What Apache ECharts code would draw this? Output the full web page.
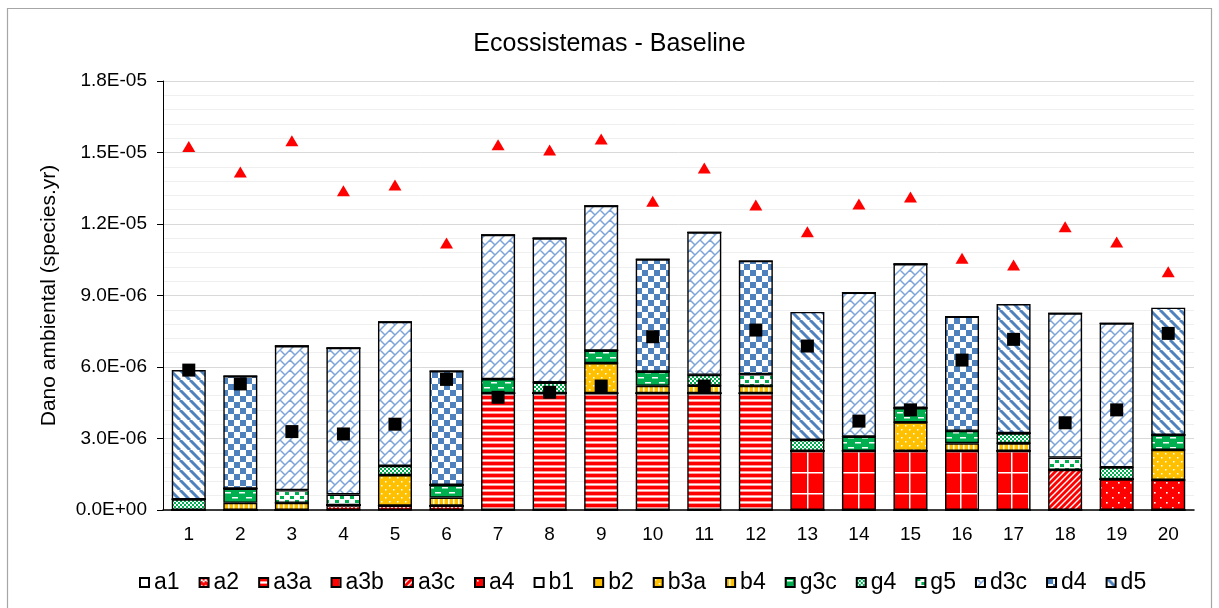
<!DOCTYPE html>
<html>
<head>
<meta charset="utf-8">
<script src="https://cdn.jsdelivr.net/npm/echarts@6/dist/echarts.min.js"></script>
<style>
html,body{margin:0;padding:0;background:#fff;}
#c{width:1219px;height:608px;}
</style>
</head>
<body>
<div id="c"></div>
<script>
// ---- data (values in units of 1E-06 species.yr) ----
const U = 1e-6;
const categories = ['1','2','3','4','5','6','7','8','9','10','11','12','13','14','15','16','17','18','19','20'];
const yTickLabels = ['0.0E+00','3.0E-06','6.0E-06','9.0E-06','1.2E-05','1.5E-05','1.8E-05'];
const seriesNames = ['a1','a2','a3a','a3b','a3c','a4','b1','b2','b3a','b4','g3c','g4','g5','d3c','d4','d5'];
const a1  = [0,0,0,0,0,0,0,0,0,0,0,0,0,0,0,0,0,0,0,0];
const a2  = [0,0,0,0.2,0.18,0.18,0,0,0,0,0,0,0,0,0,0,0,0,0,0];
const a3a = [0,0,0,0,0,0,4.9,4.9,4.9,4.9,4.9,4.9,0,0,0,0,0,0,0,0];
const a3b = [0,0,0,0,0,0,0,0,0,0,0,0,2.48,2.48,2.48,2.48,2.48,0,0,0];
const a3c = [0,0,0,0,0,0,0,0,0,0,0,0,0,0,0,0,0,1.68,0,0];
const a4  = [0,0,0,0,0,0,0,0,0,0,0,0,0,0,0,0,0,0,1.29,1.26];
const b1  = [0,0,0,0,0,0,0,0,0,0,0,0,0,0,0,0,0,0,0,0];
const b2  = [0,0,0,0,0,0,0,0,0,0,0,0,0,0,0,0,0,0,0,0];
const b3a = [0,0,0,0,1.28,0,0,0,1.26,0,0,0,0,0,1.2,0,0,0,0,1.26];
const b4  = [0,0.3,0.3,0,0,0.34,0,0,0,0.31,0.32,0.31,0,0,0,0.32,0.32,0,0,0];
const g3c = [0,0.6,0,0,0,0.53,0.59,0,0.53,0.6,0,0,0,0.6,0.6,0.52,0,0,0,0.63];
const g4  = [0.45,0,0,0,0.39,0,0,0.45,0,0,0.45,0,0.46,0,0,0,0.42,0,0.5,0];
const g5  = [0,0,0.53,0.45,0,0,0,0,0,0,0,0.49,0,0,0,0,0,0.52,0,0];
const d3c = [0,0,6.05,6.15,6.04,0,6.05,6.05,6.07,0,5.98,0,0,6.04,6.04,0,0,6.05,6.04,0];
const d4  = [0,4.72,0,0,0,4.78,0,0,0,4.71,0,4.75,0,0,0,4.79,0,0,0,0];
const d5  = [5.42,0,0,0,0,0,0,0,0,0,0,0,5.37,0,0,0,5.42,0,0,5.34];
const squares   = [5.87,5.29,3.29,3.19,3.6,5.48,4.73,4.94,5.2,7.27,5.2,7.55,6.88,3.73,4.2,6.29,7.16,3.66,4.2,7.41];
const triangles = [15.25,14.18,15.49,13.39,13.64,11.2,15.32,15.1,15.57,12.95,14.35,12.8,11.67,12.84,13.13,10.56,10.28,11.88,11.25,10.0];
const seriesValues = [a1,a2,a3a,a3b,a3c,a4,b1,b2,b3a,b4,g3c,g4,g5,d3c,d4,d5];

// ---- patterns ----
const RED='#FF0000', ORG='#FFC000', GRN='#00B050', BLU='#4F81BD';
function mk(w,h,draw){
  const c=document.createElement('canvas'); c.width=w; c.height=h;
  const g=c.getContext('2d'); draw(g,w,h);
  return {image:c, repeat:'repeat'};
}
function wrapSegs(g,segs,T){
  g.beginPath();
  segs.forEach(s=>{
    for(const dx of [-T,0,T]) for(const dy of [-T,0,T]){
      g.moveTo(s[0]+dx,s[1]+dy); g.lineTo(s[2]+dx,s[3]+dy);
    }
  });
  g.stroke();
}
const patterns = {
  a1: '#FFFFFF',
  a2: mk(8,6,(g)=>{g.fillStyle=RED;g.fillRect(0,0,8,6);g.strokeStyle='#fff';g.lineWidth=1.2;g.beginPath();g.moveTo(0,4);g.lineTo(2,1.5);g.lineTo(4,4);g.lineTo(6,1.5);g.lineTo(8,4);g.stroke();}),
  a3a: mk(4,6,(g)=>{g.fillStyle='#fff';g.fillRect(0,0,4,6);g.fillStyle=RED;g.fillRect(0,0,4,3);g.fillStyle='#FF9A9A';g.fillRect(0,3,4,1);g.fillRect(0,5,4,1);}),
  a3b: mk(17,21,(g)=>{g.fillStyle=RED;g.fillRect(0,0,17,21);g.fillStyle='#fff';g.fillRect(8,0,1.5,21);g.fillRect(0,10,17,1.5);}),
  a3c: mk(6,6,(g)=>{g.fillStyle=RED;g.fillRect(0,0,6,6);g.strokeStyle='#fff';g.lineWidth=1.4;wrapSegs(g,[[0,6,6,0]],6);}),
  a4: mk(12,10,(g)=>{g.fillStyle=RED;g.fillRect(0,0,12,10);g.fillStyle='#fff';g.fillRect(2,2,1.6,1.6);g.fillRect(8,7,1.6,1.6);}),
  b1: '#FFFFFF',
  b2: ORG,
  b3a: mk(8,8,(g)=>{g.fillStyle=ORG;g.fillRect(0,0,8,8);g.fillStyle='#fff';g.fillRect(1,1,1.5,1.5);g.fillRect(5,5,1.5,1.5);}),
  b4: mk(5,4,(g)=>{g.fillStyle=ORG;g.fillRect(0,0,5,4);g.fillStyle='#fff';g.fillRect(3,0,1.5,4);}),
  g3c: mk(14,10,(g)=>{g.fillStyle=GRN;g.fillRect(0,0,14,10);g.fillStyle='#fff';g.fillRect(1,2,6,1.5);g.fillRect(8,7,6,1.5);}),
  g4: mk(4,4,(g)=>{g.fillStyle='#fff';g.fillRect(0,0,4,4);g.fillStyle=GRN;g.fillRect(0,0,2,2);g.fillRect(2,2,2,2);}),
  g5: mk(10,8,(g)=>{g.fillStyle='#fff';g.fillRect(0,0,10,8);g.fillStyle=GRN;g.fillRect(0,0,4,3);g.fillRect(5,4,4,3);}),
  d3c: mk(20,20,(g)=>{g.fillStyle='#fff';g.fillRect(0,0,20,20);g.strokeStyle='#7DA4D8';g.lineWidth=1.5;
        wrapSegs(g,[[0,10,10,0],[0,20,20,0],[10,20,20,10],[0,0,5,5],[10,10,15,15],[10,0,15,5],[0,10,5,15]],20);}),
  d4: mk(12,12,(g)=>{g.fillStyle='#fff';g.fillRect(0,0,12,12);g.fillStyle=BLU;g.fillRect(0,0,6,6);g.fillRect(6,6,6,6);}),
  d5: mk(10,10,(g)=>{g.fillStyle='#fff';g.fillRect(0,0,10,10);g.strokeStyle=BLU;g.lineWidth=3;
        g.beginPath();for(const k of [-10,0,10]){g.moveTo(k,0);g.lineTo(k+10,10);}g.stroke();})
};

const FONT = "'Liberation Sans', Arial, sans-serif";
const barSeries = seriesNames.map((n,i)=>({
  name:n, type:'bar', stack:'total', barWidth:34,
  data: seriesValues[i].map(v=>v*U),
  itemStyle:{color:patterns[n], borderColor:'#000', borderWidth:1.4},
  emphasis:{disabled:true}
}));
const scatterSeries = [
  {name:'max', type:'scatter', symbol:'triangle', symbolSize:[13,11], z:5,
   itemStyle:{color:'#FF0000', opacity:1}, emphasis:{disabled:true}, data: triangles.map(v=>v*U)},
  {name:'total', type:'scatter', symbol:'rect', symbolSize:13, z:6,
   itemStyle:{color:'#000000', opacity:1}, emphasis:{disabled:true}, data: squares.map(v=>v*U)}
];

const chart = echarts.init(document.getElementById('c'), null, {renderer:'canvas'});
chart.setOption({
  animation:false,
  backgroundColor:'#fff',
  title:{text:'Ecossistemas - Baseline', left:'center', top:27,
    textStyle:{fontFamily:FONT, fontSize:25, fontWeight:'normal', color:'#000'}},
  grid:{left:163, right:25, top:81, bottom:98},
  legend:{data:seriesNames, left:134, top:566, icon:'rect', itemWidth:9, itemHeight:9, itemGap:19, itemTextGap:6,
    textStyle:{fontFamily:FONT, fontSize:23, color:'#000'}},
  xAxis:{type:'category', data:categories,
    axisLine:{lineStyle:{color:'#000', width:1.5}}, axisTick:{show:false},
    axisLabel:{fontFamily:FONT, fontSize:19, color:'#000', margin:15}},
  yAxis:{type:'value', min:0, max:18*U, interval:3*U,
    name:'Dano ambiental (species.yr)', nameLocation:'middle', nameGap:103,
    nameTextStyle:{fontFamily:FONT, fontSize:21, color:'#000'},
    axisLine:{show:true, lineStyle:{color:'#000', width:1}},
    axisTick:{show:true, length:6, lineStyle:{color:'#000'}},
    axisLabel:{fontFamily:FONT, fontSize:19, color:'#000', margin:16,
      formatter:(v,i)=>yTickLabels[i]},
    splitLine:{lineStyle:{color:'#D9D9D9', width:1}},
    minorSplitLine:{show:true, lineStyle:{color:'#EFEFEF', width:1}},
    minorTick:{show:false, splitNumber:5}},
  graphic:[{type:'rect', shape:{x:7.5, y:8.5, width:1204, height:640}, silent:true, z:-1,
    style:{fill:null, stroke:'#A6A6A6', lineWidth:1.2}}],
  series: barSeries.concat(scatterSeries)
});
</script>
</body>
</html>
